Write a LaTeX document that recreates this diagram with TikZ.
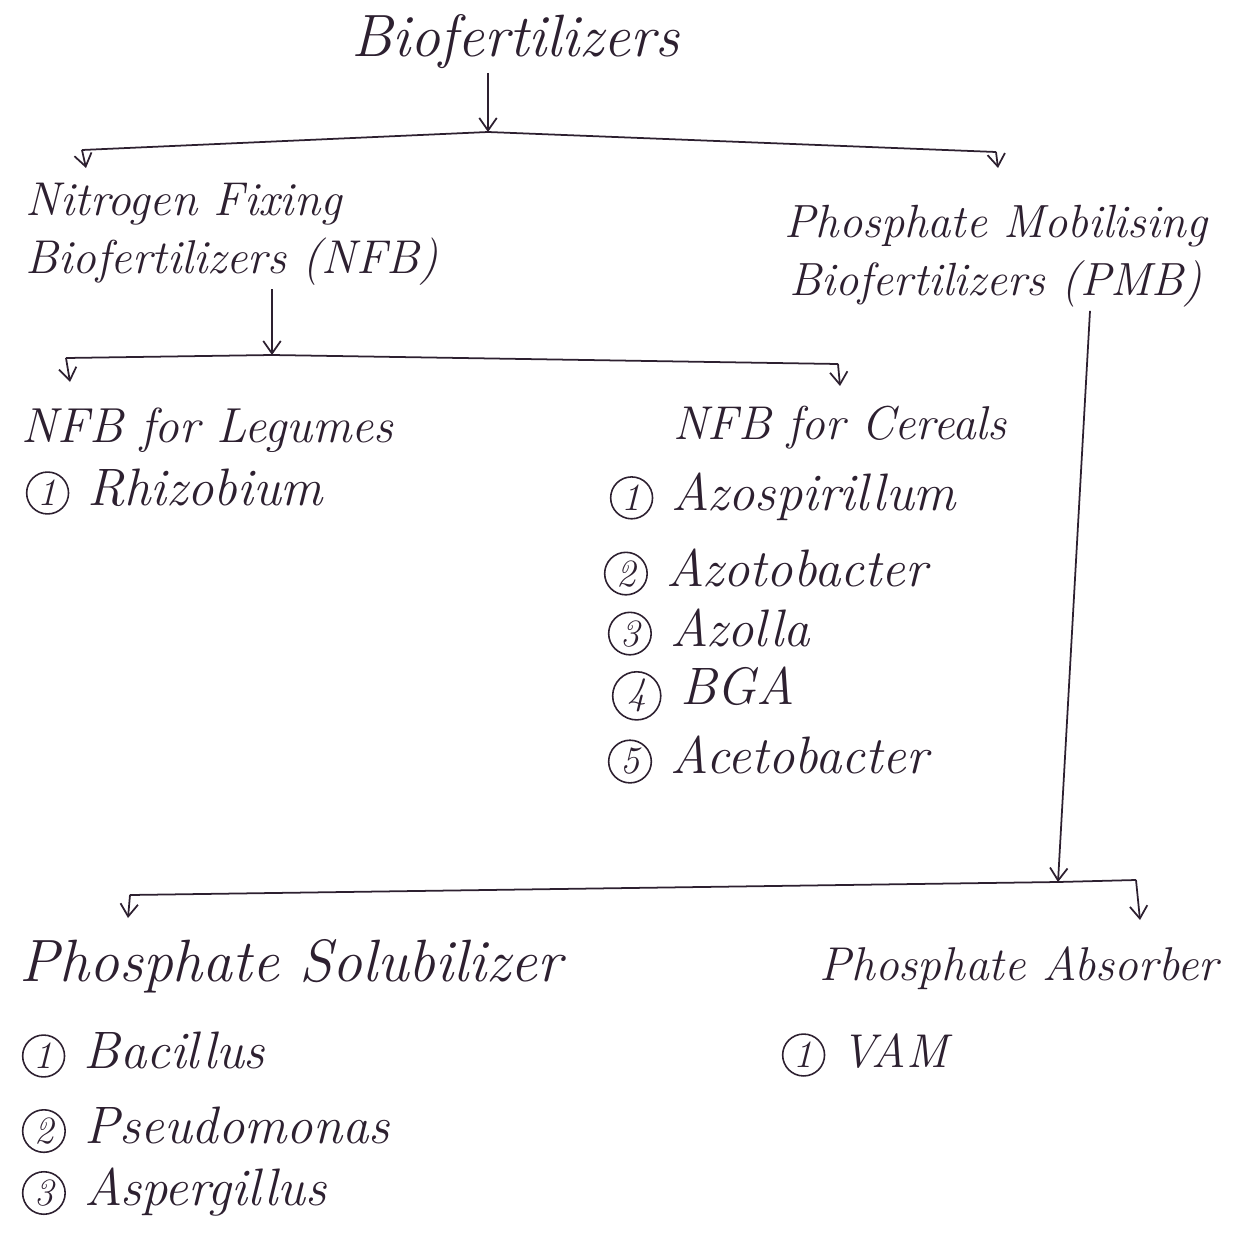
\documentclass[tikz,border=0pt]{standalone}
\usepackage{tikz}
\usetikzlibrary{arrows.meta}
\definecolor{inkdark}{RGB}{45,32,48}

\newcommand{\cnum}[1]{\tikz[baseline=(cn.base)]\node[draw=inkdark, circle, line width=0.9pt, inner sep=2pt, font=\fontsize{22}{22}\selectfont\itshape](cn){#1};}

\begin{document}
\begin{tikzpicture}[x=0.02cm, y=-0.02cm,
      every node/.style={text=inkdark, inner sep=2pt},
      hand/.style={font=\fontsize{#1}{33}\selectfont\itshape},
      hand/.default=30,
      bar/.style={inkdark, line width=1pt},
      arr/.style={-{Straight Barb[length=2.5mm, width=3.5mm]}, inkdark, line width=1pt}]
    \useasboundingbox (0,0) rectangle (1240,1247);
    % top level
    \node[hand=34] (bio) at (515,42) {Biofertilizers};
    \coordinate (t1l) at (82,150);
    \coordinate (t1m) at (488,132);
    \coordinate (t1r) at (996,152);
    \coordinate (a1l) at (86,168);
    \coordinate (a1r) at (998,168);
    \draw[arr] (bio.south -| t1m) -- (t1m);
    \draw[bar] (t1l) -- (t1m) -- (t1r);
    \draw[arr] (t1l) -- (a1l);
    \draw[arr] (t1r) -- (a1r);
    \node[hand=27, anchor=west, align=left] (nfb) at (22,234) {Nitrogen Fixing\\Biofertilizers (NFB)};
    \node[hand=26.5, align=center] (pmb) at (996,256) {Phosphate Mobilising\\Biofertilizers (PMB)};
    % nitrogen fixing branch
    \coordinate (t2l) at (66,358);
    \coordinate (t2m) at (272,355);
    \coordinate (t2r) at (838,364);
    \coordinate (a2l) at (70,382);
    \coordinate (a2r) at (840,386);
    \draw[arr] (nfb.south -| t2m) -- (t2m);
    \draw[bar] (t2l) -- (t2m) -- (t2r);
    \draw[arr] (t2l) -- (a2l);
    \draw[arr] (t2r) -- (a2r);
    \node[hand=28, anchor=west] (leg) at (18,430) {NFB for Legumes};
    \node[hand, anchor=west] (rhi) at (22,492) {\cnum{1} Rhizobium};
    \node[hand=27] (cer) at (840,428) {NFB for Cereals};
    \node[hand, anchor=west] (c1) at (606,497) {\cnum{1} Azospirillum};
    \node[hand, anchor=west] (c2) at (600,572) {\cnum{2} Azotobacter};
    \node[hand, anchor=west] (c3) at (604,632) {\cnum{3} Azolla};
    \node[hand, anchor=west] (c4) at (608,694) {\cnum{4} BGA};
    \node[hand, anchor=west] (c5) at (604,760) {\cnum{5} Acetobacter};
    % phosphate branch
    \coordinate (t3l) at (130,895);
    \coordinate (t3m) at (1058,882);
    \coordinate (t3r) at (1136,880);
    \coordinate (a3l) at (128,918);
    \coordinate (a3r) at (1140,920);
    \draw[arr] (pmb.south -| 1090,0) -- (t3m);
    \draw[bar] (t3l) -- (t3m) -- (t3r);
    \draw[arr] (t3l) -- (a3l);
    \draw[arr] (t3r) -- (a3r);
    \node[hand=34, anchor=west] (sol) at (16,966) {Phosphate Solubilizer};
    \node[hand=27, anchor=west] (abs) at (816,968) {Phosphate Absorber};
    \node[hand, anchor=west] (s1) at (18,1055) {\cnum{1} Bacillus};
    \node[hand, anchor=west] (s2) at (18,1130) {\cnum{2} Pseudomonas};
    \node[hand, anchor=west] (s3) at (18,1192) {\cnum{3} Aspergillus};
    \node[hand=27, anchor=west] (vam) at (778,1055) {\cnum{1} VAM};
  \end{tikzpicture}
\end{document}
